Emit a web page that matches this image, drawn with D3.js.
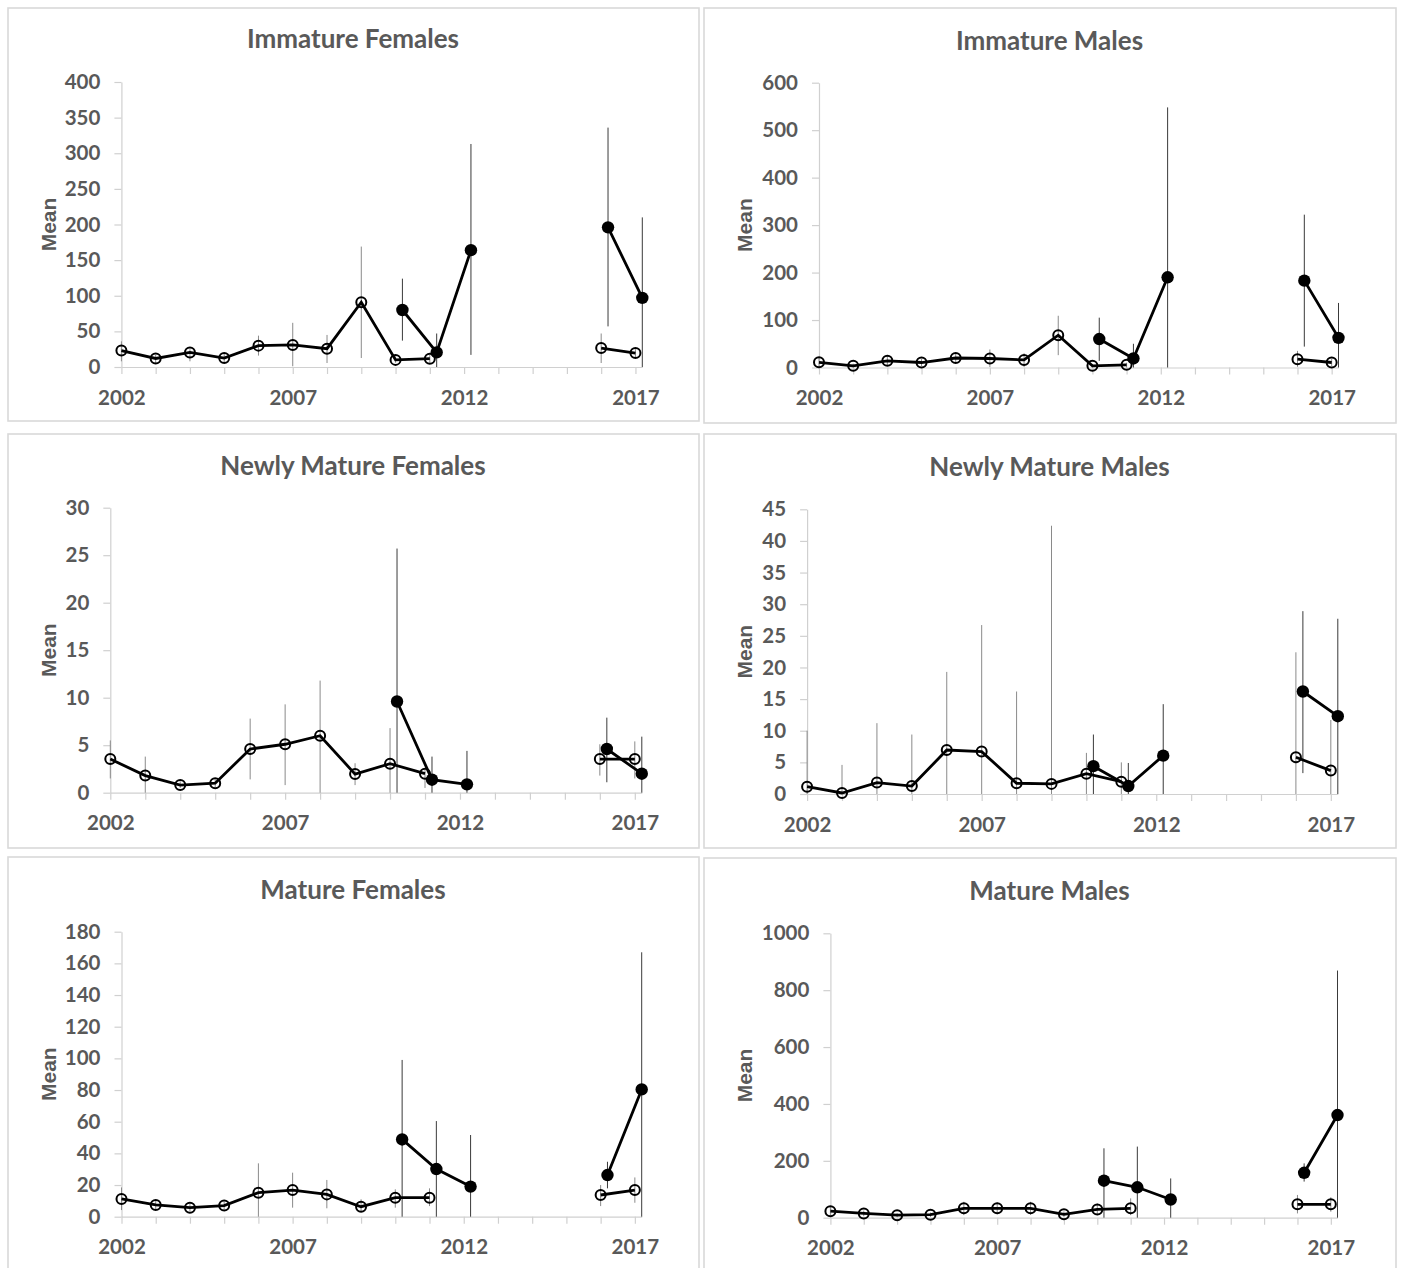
<!DOCTYPE html>
<html><head><meta charset="utf-8">
<script src="https://cdn.jsdelivr.net/npm/d3@7"></script>
<style>body{margin:0;background:#fff}</style>
</head><body>
<svg id="c" width="1401" height="1268"></svg>
<script>
// ---------------- DATA ----------------
const openYears   = [2002,2003,2004,2005,2006,2007,2008,2009,2010,2011,2012,2013,2014,2015,2016,2017];
const filledYears = [2010.2,2011.2,2012.2,2013.2,2014.2,2015.2,2016.2,2017.2];
const xTickLabels = [2002,2007,2012,2017];
const titles  = ["Immature Females","Immature Males","Newly Mature Females","Newly Mature Males","Mature Females","Mature Males"];
const yMaxes  = [400,600,30,45,180,1000];
const yTickSteps = [50,100,5,5,20,200];
const yLabel = "Mean";

// Immature Females
const imfOpenMean = [23,12,20.5,12.6,30,31,25.7,91,10,11.7,null,null,null,null,26.6,19.6];
const imfOpenLo   = [8,5.6,8,5.6,16,1,5.6,12.6,6,6,null,null,null,null,5.6,14];
const imfOpenHi   = [36,17,25,18.7,44,62,45,169,15,17,null,null,null,null,47,25];
const imfFillMean = [80,20.5,164,null,null,null,196,97];
const imfFillLo   = [37,0,17,null,null,null,57,0];
const imfFillHi   = [124,47,313,null,null,null,336,210];
// Immature Males
const immOpenMean = [11,3.5,14,10.5,20,19,16,68,3.5,5.6,null,null,null,null,17.6,10.5];
const immOpenLo   = [2,0,5,3,10,1,1,26,0,0,null,null,null,null,1.4,3];
const immOpenHi   = [22,8,24,18,30,38,30,109,7,10,null,null,null,null,35,18];
const immFillMean = [60,19,190,null,null,null,183,62.5];
const immFillLo   = [14,0,0,null,null,null,44,0];
const immFillHi   = [105,50,548,null,null,null,322,136];
// Newly Mature Females
const nmfOpenMean = [3.54,1.8,0.8,1.0,4.6,5.1,6.0,1.96,3.05,2.0,null,null,null,null,3.54,3.54];
const nmfOpenLo   = [1.5,0,0.5,0.6,1.4,0.8,0,0.8,0,0.5,null,null,null,null,1.8,1.5];
const nmfOpenHi   = [5.5,3.8,1.2,1.4,7.8,9.3,11.8,3.1,6.8,2.4,null,null,null,null,5.1,5.4];
const nmfFillMean = [9.6,1.37,0.88,null,null,null,4.6,2.0];
const nmfFillLo   = [0,0,0,null,null,null,1.1,0];
const nmfFillHi   = [25.7,3.8,4.4,null,null,null,7.9,5.9];
// Newly Mature Males
const nmmOpenMean = [1.16,0.16,1.8,1.26,6.95,6.7,1.7,1.6,3.2,1.95,null,null,null,null,5.8,3.7];
const nmmOpenLo   = [0,0,0,0,0,0,0,0,0,0,null,null,null,null,0,0];
const nmmOpenHi   = [10,4.6,11.2,9.4,19.3,26.7,16.2,42.4,6.5,5.0,null,null,null,null,22.4,11.7];
const nmmFillMean = [4.4,1.26,6.06,null,null,null,16.2,12.3];
const nmmFillLo   = [0,0,0,null,null,null,3.3,0];
const nmmFillHi   = [9.4,4.9,14.2,null,null,null,28.9,27.7];
// Mature Females
const mfOpenMean = [11.2,7.4,5.7,7.0,15.2,16.8,14.1,6.3,12,12,null,null,null,null,13.7,16.8];
const mfOpenLo   = [4.2,4.5,3.5,4.5,0,5.7,5.3,3,5.7,6.7,null,null,null,null,6.7,8.8];
const mfOpenHi   = [18.5,10.5,8,9.5,33.7,27.8,23.2,11,17.3,17.9,null,null,null,null,20,24.8];
const mfFillMean = [48.8,30.1,19,null,null,null,26.3,80.4];
const mfFillLo   = [0,0,0,null,null,null,17.9,0];
const mfFillHi   = [99,60.4,51.6,null,null,null,34.7,167];
// Mature Males
const mmOpenMean = [23,15,9,10.5,33,33,33,12,29,33,null,null,null,null,47,47];
const mmOpenLo   = [8,5,2,3,9,12,10,3,9,9,null,null,null,null,15,21];
const mmOpenHi   = [38,25,16,18,56,54,56,22,50,68,null,null,null,null,80,72];
const mmFillMean = [130,107,64,null,null,null,158,361];
const mmFillLo   = [0,0,0,null,null,null,127,0];
const mmFillHi   = [244,250,138,null,null,null,191,869];

// ---------------- LAYOUT ----------------
const boxes = [[8,8,691,413],[704,8,692,415],[8,434,691,414],[704,434,692,414],[8,857,691,420],[704,858,692,420]];
const plots = [ // x at 2002, x at 2017.2, y at 0, y at max
  [121.4,642.3,367,82],
  [819,1338.5,367.5,82.7],
  [110.3,641.8,792.7,507.7],
  [807.1,1337.8,794,509.3],
  [121.5,641.7,1216.7,931.7],
  [830.4,1337.5,1217.7,933.3]
];
const titleBase = [48,50,475,476,899,900];

const series = [
  [imfOpenMean,imfOpenLo,imfOpenHi,imfFillMean,imfFillLo,imfFillHi],
  [immOpenMean,immOpenLo,immOpenHi,immFillMean,immFillLo,immFillHi],
  [nmfOpenMean,nmfOpenLo,nmfOpenHi,nmfFillMean,nmfFillLo,nmfFillHi],
  [nmmOpenMean,nmmOpenLo,nmmOpenHi,nmmFillMean,nmmFillLo,nmmFillHi],
  [mfOpenMean,mfOpenLo,mfOpenHi,mfFillMean,mfFillLo,mfFillHi],
  [mmOpenMean,mmOpenLo,mmOpenHi,mmFillMean,mmFillLo,mmFillHi]
];

const svg = d3.select("#c");
const grey = "#595959", axisGrey = "#d0d0d0";
const tickFont = "Lato, 'Open Sans', sans-serif";

titles.forEach((title, i) => {
  const [bx,by,bw,bh] = boxes[i];
  const [px0,px1,py0,py1] = plots[i];
  const g = svg.append("g");
  g.append("rect").attr("x",bx).attr("y",by).attr("width",bw).attr("height",bh)
    .attr("fill","#fff").attr("stroke","#d9d9d9").attr("stroke-width",1.6);

  const x = d3.scaleLinear().domain([2002,2017.2]).range([px0,px1]);
  const y = d3.scaleLinear().domain([0,yMaxes[i]]).range([py0,py1]);

  // title
  g.append("text").attr("x",bx+bw/2 - 0.5).attr("y",titleBase[i]).attr("text-anchor","middle")
    .attr("font-family",tickFont).attr("font-weight","bold").attr("font-size",26)
    .attr("fill",grey).text(title);

  // y label
  g.append("text").attr("transform",`translate(${bx+40},${(py0+py1)/2}) rotate(-90)`)
    .attr("text-anchor","middle").attr("dominant-baseline","central")
    .attr("font-family","'Liberation Sans', Arial, sans-serif").attr("font-weight","bold")
    .attr("font-size",21).attr("fill",grey).text(yLabel);

  // y axis
  const yAx = d3.axisLeft(y).tickValues(d3.range(0,yMaxes[i]+yTickSteps[i]/2,yTickSteps[i]))
    .tickSize(7).tickSizeOuter(0).tickPadding(14).tickFormat(d3.format("d"));
  const ya = g.append("g").attr("transform",`translate(${px0},0)`).call(yAx);
  // x axis
  const xAx = d3.axisBottom(x).tickValues(openYears).tickSize(7).tickSizeOuter(0).tickPadding(16)
    .tickFormat(d => xTickLabels.includes(d) ? String(d) : "");
  const xa = g.append("g").attr("transform",`translate(0,${py0})`).call(xAx);
  [ya,xa].forEach(a => {
    a.select(".domain").attr("stroke",axisGrey).attr("stroke-width",1.2);
    a.selectAll(".tick line").attr("stroke",axisGrey).attr("stroke-width",1.2);
    a.selectAll(".tick text").attr("fill",grey).attr("font-family",tickFont)
      .attr("font-weight","bold").attr("font-size",20.5);
  });

  const [om,ol,oh,fm,fl,fh] = series[i];
  const openPts = openYears.map((yr,k)=>({x:yr,v:om[k],lo:ol[k],hi:oh[k]}));
  const fillPts = filledYears.map((yr,k)=>({x:yr,v:fm[k],lo:fl[k],hi:fh[k]}));
  const line = d3.line().defined(d=>d.v!=null).x(d=>x(d.x)).y(d=>y(d.v));

  // error bars
  g.append("g").selectAll("line").data(openPts.filter(d=>d.v!=null)).join("line")
    .attr("x1",d=>x(d.x)).attr("x2",d=>x(d.x)).attr("y1",d=>y(d.lo)).attr("y2",d=>y(d.hi))
    .attr("stroke","#8a8a8a").attr("stroke-width",1);
  g.append("g").selectAll("line").data(fillPts.filter(d=>d.v!=null)).join("line")
    .attr("x1",d=>x(d.x)).attr("x2",d=>x(d.x)).attr("y1",d=>y(d.lo)).attr("y2",d=>y(d.hi))
    .attr("stroke","#3a3a3a").attr("stroke-width",1);

  // open series
  g.append("path").datum(openPts).attr("d",line).attr("fill","none").attr("stroke","#000").attr("stroke-width",2.8);
  g.append("g").selectAll("circle").data(openPts.filter(d=>d.v!=null)).join("circle")
    .attr("cx",d=>x(d.x)).attr("cy",d=>y(d.v)).attr("r",5)
    .attr("fill","none").attr("stroke","#000").attr("stroke-width",2);
  // filled series
  g.append("path").datum(fillPts).attr("d",line).attr("fill","none").attr("stroke","#000").attr("stroke-width",2.8);
  g.append("g").selectAll("circle").data(fillPts.filter(d=>d.v!=null)).join("circle")
    .attr("cx",d=>x(d.x)).attr("cy",d=>y(d.v)).attr("r",6.2).attr("fill","#000");
});
</script>
</body></html>
